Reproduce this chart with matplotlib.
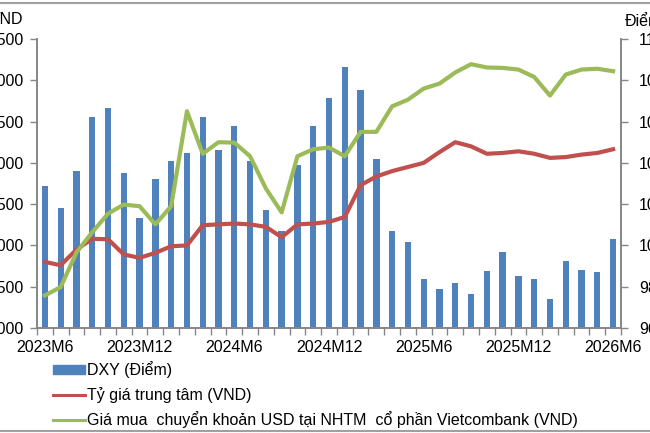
import matplotlib
matplotlib.use("Agg")
import matplotlib.pyplot as plt
from matplotlib.patches import Patch
from matplotlib.lines import Line2D
import numpy as np

plt.rcParams['font.family'] = ['Liberation Sans', 'DejaVu Sans']

months = ["2023M6", "2023M7", "2023M8", "2023M9", "2023M10", "2023M11", "2023M12",
          "2024M1", "2024M2", "2024M3", "2024M4", "2024M5", "2024M6",
          "2024M7", "2024M8", "2024M9", "2024M10", "2024M11", "2024M12",
          "2025M1", "2025M2", "2025M3", "2025M4", "2025M5", "2025M6",
          "2025M7", "2025M8", "2025M9", "2025M10", "2025M11", "2025M12",
          "2026M1", "2026M2", "2026M3", "2026M4", "2026M5", "2026M6"]
tick_labels = ["2023M6", "2023M12", "2024M6", "2024M12", "2025M6", "2025M12", "2026M6"]

dxy = [102.9, 101.8, 103.6, 106.2, 106.65, 103.5, 101.35, 103.2, 104.1, 104.5, 106.2,
       104.6, 105.8, 104.1, 101.7, 100.7, 103.9, 105.8, 107.15, 108.65, 107.55, 104.2,
       100.7, 100.15, 98.35, 97.9, 98.2, 97.65, 98.75, 99.7, 98.5, 98.35, 97.4, 99.25,
       98.8, 98.7, 100.3]
central_rate = [23800, 23760, 23950, 24080, 24075, 23890, 23850, 23910, 23990, 24000,
                24245, 24255, 24265, 24255, 24225, 24100, 24255, 24265, 24285, 24345,
                24730, 24835, 24900, 24950, 25000, 25130, 25250, 25200, 25110, 25120,
                25140, 25110, 25060, 25070, 25100, 25120, 25165]
vcb_buy = [23395, 23495, 23915, 24160, 24385, 24495, 24475, 24255, 24475, 25625,
           25110, 25250, 25245, 25080, 24690, 24400, 25080, 25165, 25185, 25080,
           25375, 25375, 25685, 25765, 25900, 25960, 26095, 26195, 26155, 26150,
           26130, 26040, 25815, 26070, 26130, 26140, 26110]

labels = ["DXY (Điểm)", "Tỷ giá trung tâm (VND)",
          "Giá mua  chuyển khoản USD tại NHTM  cổ phần Vietcombank (VND)"]

BLUE = "#4F81BD"
RED = "#C0504D"
GREEN = "#9BBB59"
AXC = "#868686"
FS = 11.5

fig = plt.figure(figsize=(6.5, 4.33), dpi=100)
ax = fig.add_axes([37/650, 1-328/433, (621-37)/650, (328-39)/433])
x = np.arange(len(months))

ax.bar(x, dxy, width=0.4, color=BLUE, zorder=2)
ax.set_ylim(96, 110)
ax.set_yticks(np.arange(96, 111, 2))
ax.set_xlim(-0.5, len(months) - 0.5)

ax2 = ax.twinx()
ax2.plot(x, central_rate, color=RED, lw=3, solid_joinstyle='round', zorder=3)
ax2.plot(x, vcb_buy, color=GREEN, lw=3, solid_joinstyle='round', zorder=3)
ax2.set_ylim(23000, 26500)
ax2.set_yticks(np.arange(23000, 26501, 500))

# bars axis (DXY) on the right, lines axis (VND) on the left
ax.yaxis.tick_right()
ax.yaxis.set_label_position('right')
ax2.yaxis.tick_left()
ax2.yaxis.set_label_position('left')
ax.tick_params(axis='y', labelsize=FS, colors=AXC, labelcolor='black',
               length=5, width=1, pad=8)
ax2.tick_params(axis='y', labelsize=FS, colors=AXC, labelcolor='black',
                length=5, width=1, pad=4.5)

ax.set_xticks([months.index(t) for t in tick_labels])
ax.set_xticklabels(tick_labels, fontsize=FS)
ax.set_xticks(np.arange(-0.5, len(months), 1), minor=True)
ax.tick_params(axis='x', which='major', length=0, pad=9)
ax.tick_params(axis='x', which='minor', length=5, color=AXC, width=1)
ax2.tick_params(axis='x', which='both', length=0)

for a in (ax, ax2):
    a.spines['top'].set_visible(False)
    for s in ('left', 'right', 'bottom'):
        a.spines[s].set_color(AXC)
        a.spines[s].set_linewidth(1.2)

fig.text(-10/650, 1-19/433, "VND", fontsize=FS, ha='left', va='center')
fig.text(625/650, 1-22/433, "Điểm", fontsize=FS, ha='left', va='center')

handles = [Patch(facecolor=BLUE, edgecolor=BLUE),
           Line2D([0], [0], color=RED, lw=2.2),
           Line2D([0], [0], color=GREEN, lw=2.2)]
fig.legend(handles, labels, loc='upper left', bbox_to_anchor=(53/650, 1-361/433),
           frameon=False, fontsize=FS, handlelength=2.0, handleheight=0.5,
           handletextpad=0.15, labelspacing=0.55, borderaxespad=0, borderpad=0)

fig.add_artist(Line2D([0, 1], [1-3/433, 1-3/433], color="#A0A0A0", lw=1.5, transform=fig.transFigure))
fig.add_artist(Line2D([0, 1], [1-431/433, 1-431/433], color="#A0A0A0", lw=1.5, transform=fig.transFigure))

fig.savefig("out.png", dpi=100)
